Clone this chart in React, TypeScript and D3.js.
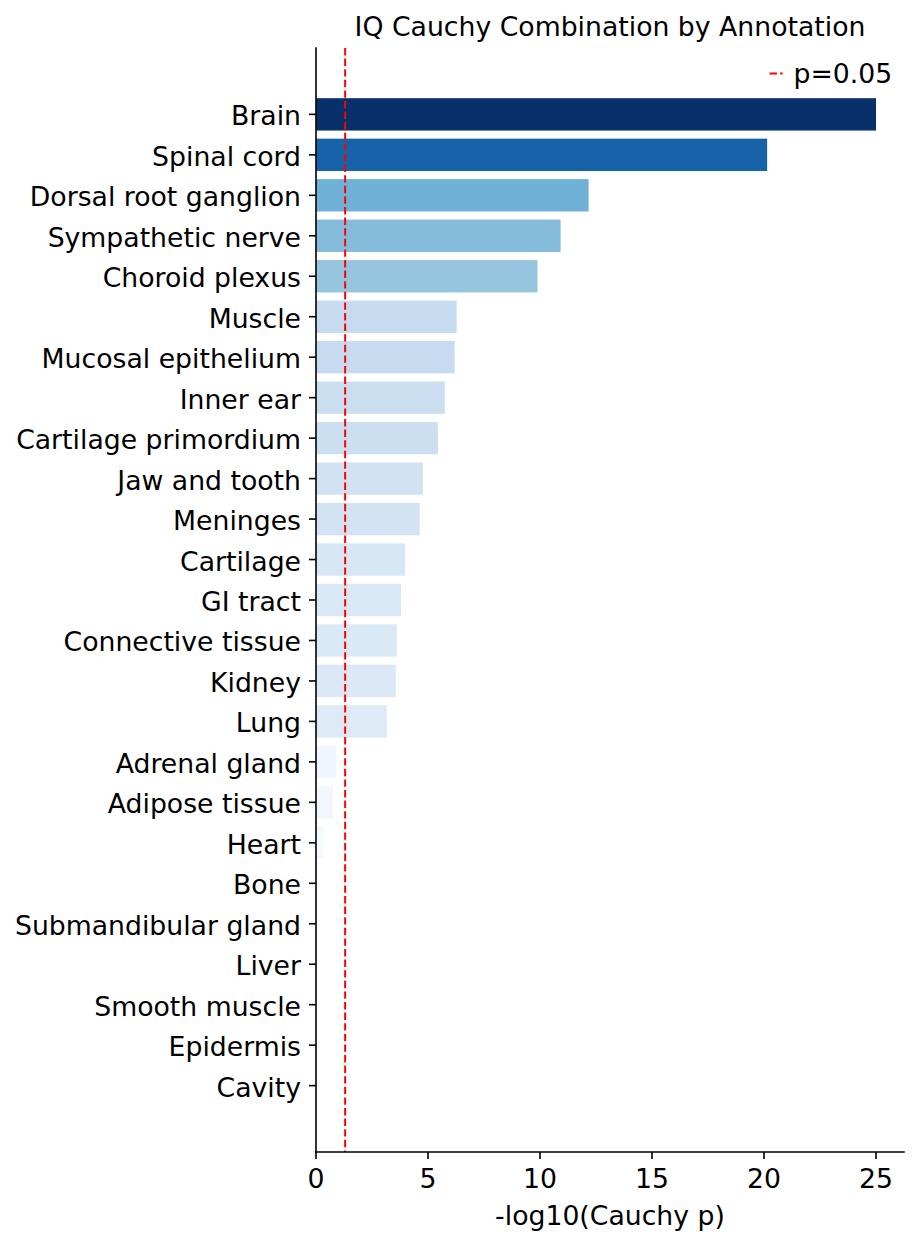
import * as React from 'react';
import * as d3 from 'd3';

// annotation categories, top to bottom
const categories = [
  'Brain', 'Spinal cord', 'Dorsal root ganglion', 'Sympathetic nerve', 'Choroid plexus',
  'Muscle', 'Mucosal epithelium', 'Inner ear', 'Cartilage primordium', 'Jaw and tooth',
  'Meninges', 'Cartilage', 'GI tract', 'Connective tissue', 'Kidney', 'Lung',
  'Adrenal gland', 'Adipose tissue', 'Heart', 'Bone', 'Submandibular gland', 'Liver',
  'Smooth muscle', 'Epidermis', 'Cavity',
];

// -log10(Cauchy p)
const values = [
  25.0, 20.14, 12.17, 10.92, 9.89,
  6.28, 6.19, 5.75, 5.44, 4.77,
  4.63, 3.97, 3.79, 3.61, 3.56, 3.16,
  0.89, 0.76, 0.34, 0.03, 0.02, 0.01,
  0.01, 0.0, 0.0,
];

const xTicks = [0, 5, 10, 15, 20, 25];
const threshold = -Math.log10(0.05);

// matplotlib "Blues" control colours
const bluesStops = ['#f7fbff', '#deebf7', '#c6dbef', '#9ecae1', '#6baed6', '#4292c6', '#2171b5', '#08519c', '#08306b'];

const W = 921;
const H = 1244;
const margin = { left: 316, right: 17, top: 48, bottom: 92 };
const font = '"DejaVu Sans", sans-serif';
const fs = 26.7;

export default function App() {
  const maxV = d3.max(values) as number;

  const x = d3.scaleLinear()
    .domain([0, maxV * 1.05])
    .range([margin.left, W - margin.right]);

  const n = categories.length;
  const pad = (n - 1 + 0.8) * 0.05;
  const y = d3.scaleLinear()
    .domain([-0.4 - pad, n - 1 + 0.4 + pad])
    .range([margin.top, H - margin.bottom]);

  const blues = d3.scaleLinear<string>()
    .domain(d3.range(bluesStops.length).map(i => i / (bluesStops.length - 1)))
    .range(bluesStops)
    .interpolate(d3.interpolateRgb);

  const x0 = x.range()[0];
  const x1 = x.range()[1];
  const yTop = y.range()[0];
  const yBot = y.range()[1];
  const cx = (x0 + x1) / 2;
  const thrX = x(threshold);

  return (
    <svg width={W} height={H} style={{ position: 'absolute', left: 0, top: 0, background: '#fff' }}
      fontFamily={font}>
      <rect x={0} y={0} width={W} height={H} fill="#fff" />

      {/* bars */}
      {categories.map((c, i) => (
        <rect key={c} x={x(0)} y={y(i - 0.4)}
          width={Math.max(0, x(values[i]) - x(0))}
          height={y(i + 0.4) - y(i - 0.4)}
          fill={blues(values[i] / maxV)} />
      ))}

      {/* p = 0.05 line */}
      <line x1={thrX} x2={thrX} y1={yTop} y2={yBot}
        stroke="#ff0000" strokeWidth={2} strokeDasharray="7.4,3.2" />

      {/* spines */}
      <line x1={x0} x2={x0} y1={yTop} y2={yBot} stroke="#000" strokeWidth={1.6} strokeLinecap="square" />
      <line x1={x0} x2={x1} y1={yBot} y2={yBot} stroke="#000" strokeWidth={1.6} strokeLinecap="square" />

      {/* y ticks and labels */}
      {categories.map((c, i) => (
        <g key={c} transform={`translate(${x0},${y(i)})`}>
          <line x1={-7} x2={0} y1={0} y2={0} stroke="#000" strokeWidth={1.6} />
          <text x={-15} y={11} textAnchor="end" fontSize={fs} fill="#000">{c}</text>
        </g>
      ))}

      {/* x ticks and labels */}
      {xTicks.map(t => (
        <g key={t} transform={`translate(${x(t)},${yBot})`}>
          <line x1={0} x2={0} y1={0} y2={7} stroke="#000" strokeWidth={1.6} />
          <text x={0} y={36} textAnchor="middle" fontSize={fs} fill="#000">{t}</text>
        </g>
      ))}

      <text x={cx} y={yBot + 73} textAnchor="middle" fontSize={fs} fill="#000">-log10(Cauchy p)</text>

      <text x={cx} y={yTop - 12} textAnchor="middle" fontSize={fs} fill="#000">
        IQ Cauchy Combination by Annotation
      </text>

      {/* legend */}
      <g transform="translate(769.5,73.5)">
        <line x1={0} x2={13} y1={0} y2={0} stroke="#ff0000" strokeWidth={2} strokeDasharray="7.4,3.2" />
        <text x={24} y={9.5} fontSize={fs} fill="#000">p=0.05</text>
      </g>
    </svg>
  );
}
